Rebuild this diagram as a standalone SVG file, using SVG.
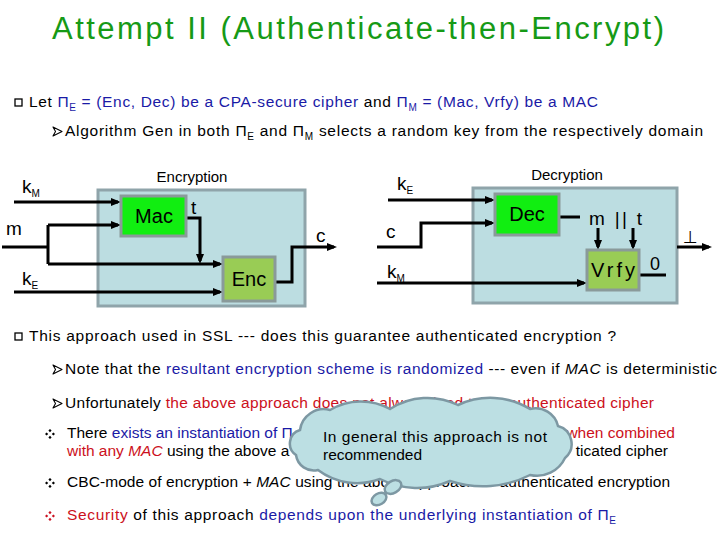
<svg xmlns="http://www.w3.org/2000/svg" width="720" height="540" viewBox="0 0 720 540">
<style>
.t{font-family:"Liberation Sans",Arial,sans-serif}
.body{font-size:15.5px;fill:#000}
.b{fill:#1a1aa6}.r{fill:#cc1020}.i{font-style:italic}
.sub{font-size:10px}
.w{fill:none;stroke:#000;stroke-width:3}
.wa{fill:none;stroke:#000;stroke-width:3;marker-end:url(#ah)}
.box{fill:#bcdde1;stroke:#8fa4aa;stroke-width:3}
.g1{fill:#11ee11;stroke:#8a9a9a;stroke-width:3}
.g2{fill:#99cc55;stroke:#8a9a9a;stroke-width:3}
.lbl{font-size:19px;fill:#000}
.nl{font-size:20px;fill:#000;text-anchor:middle}
.cap{font-size:15px;fill:#000;text-anchor:middle}
.cl{fill:#bcdfe3;stroke:#7d98a3;stroke-width:2.5}
</style>
<defs>
<marker id="ah" markerUnits="userSpaceOnUse" markerWidth="11" markerHeight="9" refX="7" refY="4" orient="auto"><path d="M0,0 L10,4 L0,8 Z" fill="#000"/></marker>
<symbol id="sq" overflow="visible"><rect x="0" y="0" width="7" height="7" fill="#fff" stroke="#000" stroke-width="1.3"/></symbol>
<symbol id="ar" overflow="visible"><path d="M0,0 L9,4.5 L0,9 L2.5,4.5 Z" fill="#fff" stroke="#000" stroke-width="1.1" stroke-linejoin="round"/></symbol>
<symbol id="dm" overflow="visible"><path d="M0,-5 l1.6,1.6 l-1.6,1.6 l-1.6,-1.6Z M0,5 l1.6,-1.6 l-1.6,-1.6 l-1.6,1.6Z M-5,0 l1.6,-1.6 l1.6,1.6 l-1.6,1.6Z M5,0 l-1.6,-1.6 l-1.6,1.6 l1.6,1.6Z"/></symbol>
</defs>
<rect width="720" height="540" fill="#fff"/>

<g id="title"><text class="t" x="52" y="39" font-size="31" fill="#169a16" textLength="612">Attempt II (Authenticate-then-Encrypt)</text></g>

<g id="text-top">
<use href="#sq" x="15" y="99"/>
<text class="t body" x="29" y="107" textLength="569">Let <tspan class="b">Π<tspan class="sub" dy="4">E</tspan><tspan dy="-4"> = (Enc, Dec) be a CPA-secure cipher</tspan></tspan> and <tspan class="b">Π<tspan class="sub" dy="4">M</tspan><tspan dy="-4"> = (Mac, Vrfy) be a MAC</tspan></tspan></text>
<use href="#ar" x="53" y="127"/>
<text class="t body" x="65" y="136" textLength="638">Algorithm Gen in both Π<tspan class="sub" dy="4">E</tspan><tspan dy="-4"> and Π</tspan><tspan class="sub" dy="4">M</tspan><tspan dy="-4"> selects a random key from the respectively domain</tspan></text>
</g>

<g id="encryption-box"><rect class="box" x="98" y="190" width="207" height="116"/><text class="t cap" x="192" y="182">Encryption</text></g>
<g id="decryption-box"><rect class="box" x="473" y="188" width="204" height="115"/><text class="t cap" x="567" y="180">Decryption</text></g>

<g id="connectors">
<path class="wa" d="M14,202 H118"/>
<path class="w" d="M2,247 H48 M48,225 V264"/>
<path class="wa" d="M48,225 H118"/>
<path class="wa" d="M48,264 H220"/>
<path class="wa" d="M14,292 H220"/>
<path class="wa" d="M186,218 H200 V261"/>
<path class="wa" d="M275,282 H292 V247 H334"/>
<path class="wa" d="M388,200 H492"/>
<path class="wa" d="M377,247 H421 V223 H492"/>
<path class="wa" d="M377,283 H584"/>
<path class="w" d="M559,217 H580"/>
<path class="wa" d="M598,228 V247"/>
<path class="wa" d="M633,228 V247"/>
<path class="w" d="M639,275 H666"/>
<path class="wa" d="M677,247 H709"/>
</g>

<g id="mac"><rect class="g1" x="121" y="196" width="65" height="40"/><text class="t nl" x="154" y="223">Mac</text></g>
<g id="enc"><rect class="g2" x="223" y="257" width="52" height="44"/><text class="t nl" x="249" y="286">Enc</text></g>
<g id="dec"><rect class="g1" x="495" y="194" width="64" height="41"/><text class="t nl" x="527" y="221">Dec</text></g>
<g id="vrfy"><rect class="g2" x="587" y="250" width="52" height="40"/><text class="t nl" x="613" y="277" textLength="44">Vrfy</text></g>

<g id="labels">
<text class="t lbl" x="22" y="193">k<tspan class="sub" dy="4">M</tspan></text>
<text class="t lbl" x="6" y="235">m</text>
<text class="t lbl" x="22" y="285">k<tspan class="sub" dy="4">E</tspan></text>
<text class="t lbl" x="191" y="214">t</text>
<text class="t lbl" x="316" y="242">c</text>
<text class="t lbl" x="397" y="190">k<tspan class="sub" dy="4">E</tspan></text>
<text class="t lbl" x="386" y="238">c</text>
<text class="t lbl" x="387" y="278">k<tspan class="sub" dy="4">M</tspan></text>
<text class="t lbl" x="589" y="225" textLength="53">m || t</text>
<text class="t" x="650" y="270" font-size="18">0</text>
<text x="683" y="243" font-family="DejaVu Sans,sans-serif" font-size="17">⊥</text>
</g>

<g id="text-bottom">
<use href="#sq" x="15" y="333"/>
<text class="t body" x="29" y="341" textLength="587">This approach used in SSL --- does this guarantee authenticated encryption ?</text>
<use href="#ar" x="53" y="365"/>
<text class="t body" x="65" y="374" textLength="652">Note that the <tspan class="b">resultant encryption scheme is randomized</tspan> --- even if <tspan class="i">MAC</tspan> is deterministic</text>
<use href="#ar" x="53" y="399"/>
<text class="t body" x="65" y="408" textLength="589">Unfortunately <tspan class="r">the above approach does not always lead to an authenticated cipher</tspan></text>
<use href="#dm" x="50" y="434"/>
<text class="t body" x="67" y="438">There <tspan class="b">exists an instantiation of Π</tspan></text>
<text class="t body r" x="675" y="438" text-anchor="end">when combined</text>
<text class="t body" x="67" y="456"><tspan class="r">with any <tspan class="i">MAC</tspan></tspan> using the above a</text>
<text class="t body" x="668" y="456" text-anchor="end">ticated cipher</text>
<use href="#dm" x="50" y="483"/>
<text class="t body" x="67" y="487" textLength="603">CBC-mode of encryption + <tspan class="i">MAC</tspan> using the above approach → authenticated encryption</text>
<use href="#dm" x="50" y="516" fill="#cc1020"/>
<text class="t body" x="67" y="520" textLength="549"><tspan class="r">Security</tspan> of this approach <tspan class="b">depends upon the underlying instantiation of Π<tspan class="sub" dy="4">E</tspan></tspan></text>
</g>

<g id="cloud">
<path class="cl" d="M300,430 A24,24 0 0 1 330,410 A60,60 0 0 1 390,409 A69,69 0 0 1 458,405 A76,76 0 0 1 530,409 A23,23 0 0 1 558,426 A18.5,18.5 0 0 1 565,458 A31,31 0 0 1 530,475 A104,104 0 0 1 450,481 A81,81 0 0 1 380,479 A65,65 0 0 1 318,470 A18,18 0 0 1 296,455 A14,14 0 0 1 300,430 Z"/>
<ellipse class="cl" cx="393" cy="487" rx="9" ry="6" transform="rotate(-30 393 487)"/>
<ellipse class="cl" cx="379" cy="499" rx="8" ry="5.5" transform="rotate(-30 379 499)"/>
<text class="t" x="323" y="442" font-size="15.5" textLength="224">In general this approach is not</text>
<text class="t" x="323" y="460" font-size="15.5" textLength="99">recommended</text>
</g>
</svg>
